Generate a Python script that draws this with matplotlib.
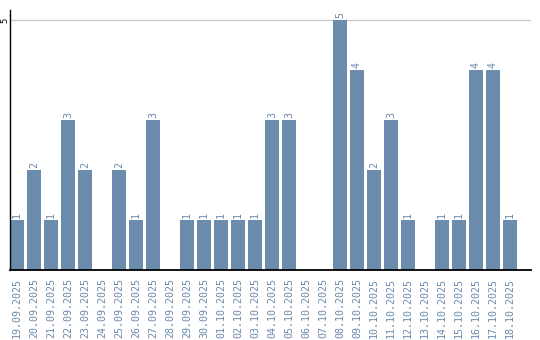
import matplotlib
matplotlib.use("Agg")
import matplotlib.pyplot as plt

# daily counts
dates = ["19.09.2025", "20.09.2025", "21.09.2025", "22.09.2025", "23.09.2025",
         "24.09.2025", "25.09.2025", "26.09.2025", "27.09.2025", "28.09.2025",
         "29.09.2025", "30.09.2025", "01.10.2025", "02.10.2025", "03.10.2025",
         "04.10.2025", "05.10.2025", "06.10.2025", "07.10.2025", "08.10.2025",
         "09.10.2025", "10.10.2025", "11.10.2025", "12.10.2025", "13.10.2025",
         "14.10.2025", "15.10.2025", "16.10.2025", "17.10.2025", "18.10.2025"]
counts = [1, 2, 1, 3, 2, 0, 2, 1, 3, 0,
          1, 1, 1, 1, 1, 3, 3, 0, 0, 5,
          4, 2, 3, 1, 0, 1, 1, 4, 4, 1]
y_ticks = [5]

bar_color = "#6b8cad"
text_color = "#6a8aab"

fig = plt.figure(figsize=(5.4, 3.4), dpi=100)
ax = fig.add_axes([10 / 540, 70 / 340, 521 / 540, 260 / 340])

x = list(range(len(dates)))
bars = ax.bar(x, counts, width=14 / 17, color=bar_color, zorder=2)

for xi, v in zip(x, counts):
    if v > 0:
        ax.text(xi, v + 0.04, str(v), rotation=90, ha="center", va="bottom",
                color=text_color, fontsize=7.2, family="DejaVu Sans Mono")

ax.set_xlim(-7 / 17, (531 - 17) / 17)
ax.set_ylim(0, 5.2)

ax.set_xticks(x)
ax.set_xticklabels(dates, rotation=90, color=text_color, fontsize=7.2,
                   family="DejaVu Sans Mono")
ax.tick_params(axis="x", length=0, pad=6)

ax.set_yticks(y_ticks)
ax.set_yticklabels([str(t) for t in y_ticks], rotation=90, va="center",
                   fontsize=6.5, family="DejaVu Sans Mono")
ax.tick_params(axis="y", length=0, pad=0.5)

for t in y_ticks:
    ax.axhline(t, color="#cccccc", linewidth=1, zorder=1)

for side in ["top", "right"]:
    ax.spines[side].set_visible(False)
ax.spines["left"].set_linewidth(1)
ax.spines["bottom"].set_linewidth(1.3)

fig.savefig("out.png", dpi=100)
